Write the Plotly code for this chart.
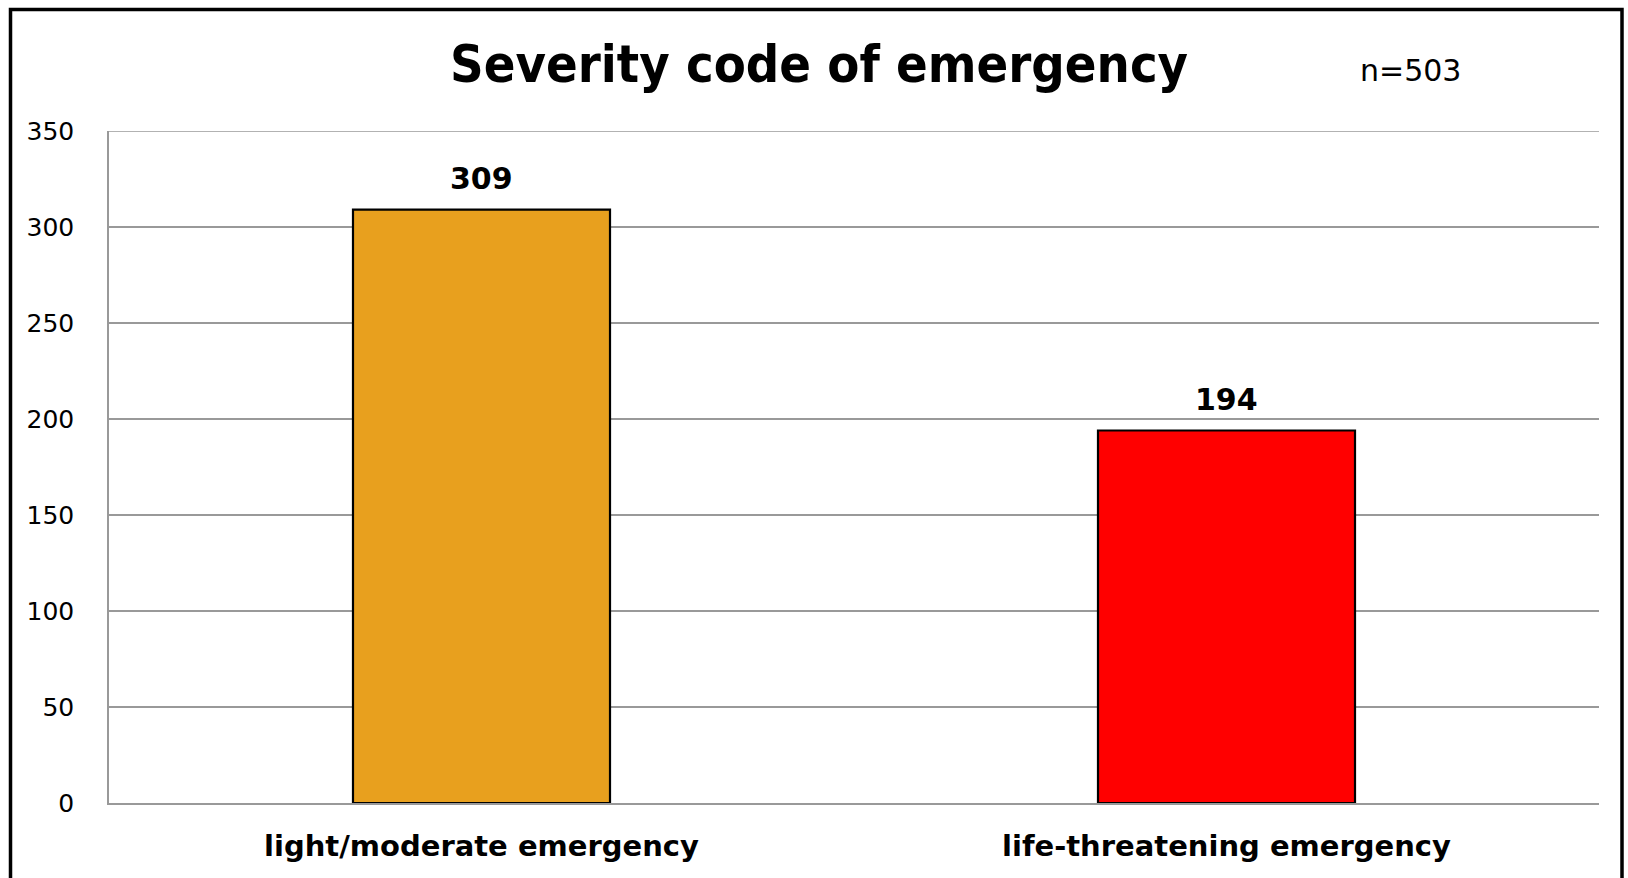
import plotly.graph_objects as go

categories = ["light/moderate emergency", "life-threatening emergency"]
counts = [309, 194]
bar_colors = ["#E8A01E", "#FF0000"]
title_text = "Severity code of emergency"
n_text = "n=503"
y_ticks = [0, 50, 100, 150, 200, 250, 300, 350]
y_max = 350

W, H = 1628, 878
L, R, T, B = 109, 1599, 131, 803

def px_x(px):
    return (px - L) / (R - L)

def px_y(py):
    return (B - py) / (B - T)

fig = go.Figure()
fig.add_trace(go.Bar(
    x=categories, y=counts,
    marker=dict(color=bar_colors, line=dict(color="black", width=2.2)),
    width=0.345,
))
for c, v in zip(categories, counts):
    fig.add_annotation(x=c, y=v, text=f"<b>{v}</b>", showarrow=False,
                       yanchor="bottom", yshift=12,
                       font=dict(family="DejaVu Sans", size=30, color="black"))

fig.add_annotation(xref="paper", yref="paper", x=px_x(819), y=px_y(64),
                   text=f"<b>{title_text}</b>", showarrow=False,
                   xanchor="center", yanchor="middle",
                   font=dict(family="DejaVu Sans Condensed", size=52, color="black"))
fig.add_annotation(xref="paper", yref="paper", x=px_x(1410), y=px_y(70),
                   text=n_text, showarrow=False, xanchor="center", yanchor="middle",
                   font=dict(family="DejaVu Sans", size=30, color="black"))

# top gridline at the axis maximum
fig.add_shape(type="line", xref="paper", yref="y", x0=0, x1=1, y0=y_max, y1=y_max,
              line=dict(color="#999999", width=1.5), layer="below")

# outer chart border
fig.add_shape(type="rect", xref="paper", yref="paper",
              x0=px_x(10.5), x1=px_x(1622), y0=px_y(895), y1=px_y(9.5),
              line=dict(color="black", width=3.5), fillcolor="rgba(0,0,0,0)")

fig.update_layout(
    width=W, height=H,
    margin=dict(l=L, r=W - R, t=T, b=H - B, autoexpand=False),
    paper_bgcolor="white", plot_bgcolor="white",
    showlegend=False,
    hovermode=False,
    font=dict(family="DejaVu Sans", color="black"),
)
fig.update_yaxes(range=[0, y_max], tickvals=y_ticks, showgrid=True, gridcolor="#999999",
                 gridwidth=1.5, showline=True, linecolor="#999999", linewidth=1.5,
                 zeroline=False, ticks="", ticklabelstandoff=28, automargin=False,
                 tickfont=dict(family="DejaVu Sans", size=25, color="black"))
fig.update_xaxes(showline=True, linecolor="#999999", linewidth=1.5, ticks="",
                 ticklabelstandoff=16, automargin=False,
                 tickfont=dict(family="DejaVu Sans", size=29, color="black"),
                 tickprefix="<b>", ticksuffix="</b>")

fig.write_html("out.html", config={"displayModeBar": False},
               post_script="document.body.style.margin='0';document.body.style.overflow='hidden';")
